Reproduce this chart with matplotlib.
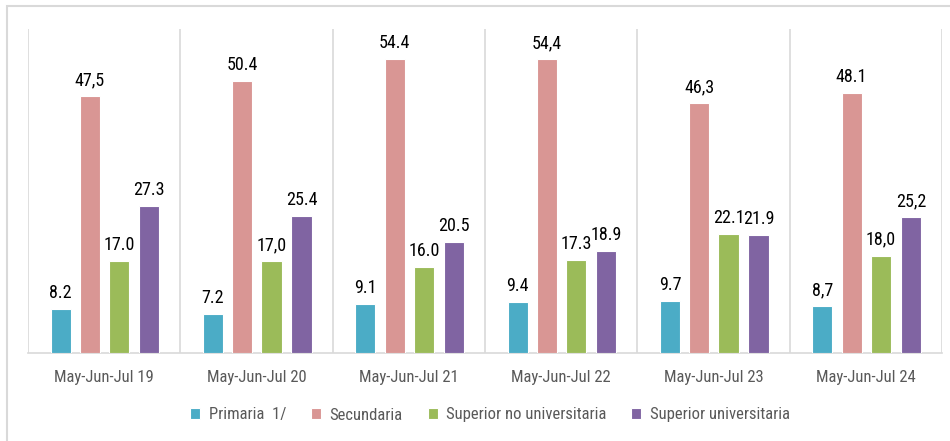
import numpy as np
from matplotlib import pyplot as plt
from matplotlib.patches import Rectangle

plt.rcParams['font.family'] = ['Roboto Condensed', 'Archivo Narrow', 'Liberation Sans', 'DejaVu Sans']

periods = ['May-Jun-Jul 19', 'May-Jun-Jul 20', 'May-Jun-Jul 21',
           'May-Jun-Jul 22', 'May-Jun-Jul 23', 'May-Jun-Jul 24']
series_names = ['Primaria  1/', 'Secundaria', 'Superior no universitaria', 'Superior universitaria']
colors = ['#4BACC6', '#D99694', '#9BBB59', '#8064A2']

primaria = [8.2, 7.2, 9.1, 9.4, 9.7, 8.7]
secundaria = [47.5, 50.4, 54.4, 54.4, 46.3, 48.1]
sup_no_univ = [17.0, 17.0, 16.0, 17.3, 22.1, 18.0]
sup_univ = [27.3, 25.4, 20.5, 18.9, 21.9, 25.2]

# value labels as printed in the source (mixed decimal marks)
lbl_primaria = ['8.2', '7.2', '9.1', '9.4', '9.7', '8,7']
lbl_secundaria = ['47,5', '50.4', '54.4', '54,4', '46,3', '48.1']
lbl_sup_no_univ = ['17.0', '17,0', '16.0', '17.3', '22.1', '18,0']
lbl_sup_univ = ['27.3', '25.4', '20.5', '18.9', '21.9', '25,2']

values = [primaria, secundaria, sup_no_univ, sup_univ]
labels = [lbl_primaria, lbl_secundaria, lbl_sup_no_univ, lbl_sup_univ]

fig = plt.figure(figsize=(9.5, 4.41), dpi=100)
ax = fig.add_axes([28 / 950, 88 / 441, 914 / 950, 324 / 441])

# outer frame of the picture
fig.patches.append(Rectangle((7 / 950, -0.1), 1.0, (441 - 6) / 441 + 0.1, transform=fig.transFigure,
                             fill=False, edgecolor='#D9D9D9', linewidth=1.5))

x = np.arange(len(periods))
step = 0.197
width = 0.132
offsets = [-1.5 * step + 0.01, -0.5 * step + 0.005, 0.5 * step, 1.5 * step]

handles = []
for i in range(4):
    bars = ax.bar(x + offsets[i], values[i], width, color=colors[i], edgecolor='white',
                  linewidth=0.8, label=series_names[i], zorder=3)
    handles.append(bars)
    for b, txt in zip(bars, labels[i]):
        ax.annotate(txt, (b.get_x() + b.get_width() / 2, b.get_height()), xytext=(0, 5),
                    textcoords='offset points', ha='center', va='bottom', fontsize=13, color='black')

ax.set_xlim(-0.5, len(periods) - 0.5)
ax.set_ylim(0, 60)
for sep in np.arange(-0.5, len(periods), 1.0):
    ax.axvline(sep, color='#D9D9D9', linewidth=1.2, zorder=1)

for s in ['top', 'right', 'left']:
    ax.spines[s].set_visible(False)
ax.spines['bottom'].set_color('#D9D9D9')
ax.spines['bottom'].set_linewidth(1.2)
ax.set_yticks([])
ax.set_xticks(x)
ax.set_xticklabels(periods, fontsize=12, color='#595959')
ax.tick_params(axis='x', length=0, pad=12)

fig.legend(handles=handles, labels=series_names, loc='center', bbox_to_anchor=(490 / 950, 26 / 441),
           ncol=4, frameon=False, fontsize=12, handlelength=0.6, handleheight=0.6,
           handletextpad=0.5, columnspacing=1.5, labelcolor='#595959')

fig.savefig('out.png', dpi=100)
